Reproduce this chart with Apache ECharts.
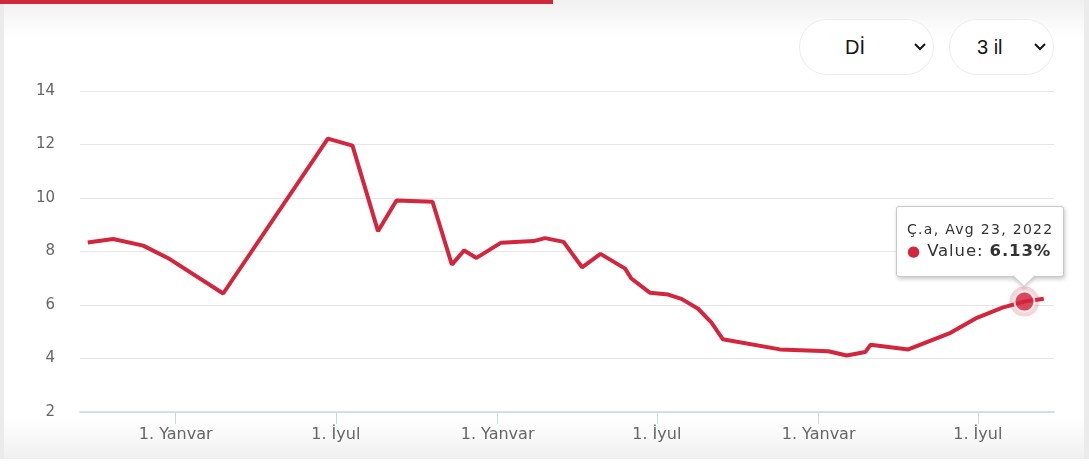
<!DOCTYPE html>
<html>
<head>
<meta charset="utf-8">
<script src="https://cdn.jsdelivr.net/npm/echarts@6/dist/echarts.min.js"></script>
<style>
  html, body { margin:0; padding:0; background:#fff; width:1089px; height:475px; overflow:hidden; }
  #frame { position:absolute; left:0; top:0; width:1089px; height:459px; background:#ebebeb; }
  #card { position:absolute; left:4px; top:0; width:1080px; height:459px;
    background:linear-gradient(to bottom, #efefef 0px, #f6f6f6 14px, #ffffff 38px, #ffffff 418px, #f7f7f7 440px, #efefef 459px); }
  #bar { position:absolute; left:0; top:0; width:553px; height:4px; background:#d0273c; }
  #chart { position:absolute; left:0; top:0; width:1089px; height:475px; }
  .dd { position:absolute; top:19px; height:56px; box-sizing:border-box; border:1px solid #ececec; border-radius:28px;
    background:#fff; font-family:"Liberation Sans", Arial, sans-serif; font-size:20px; color:#151515; z-index:5; }
  .dd span { position:absolute; top:0; line-height:54px; }
  .dd svg { position:absolute; top:22px; }
</style>
</head>
<body>
<div id="frame"></div>
<div id="card"></div>
<div id="bar"></div>
<div id="chart"></div>
<div class="dd" style="left:799px;width:135px;"><span style="left:45px;">Dİ</span>
  <svg style="left:113px" width="14" height="10" viewBox="0 0 14 10"><polyline points="2,2 7,7 12,2" fill="none" stroke="#151515" stroke-width="2"/></svg></div>
<div class="dd" style="left:949px;width:105px;"><span style="left:27px;">3 il</span>
  <svg style="left:83px" width="14" height="10" viewBox="0 0 14 10"><polyline points="2,2 7,7 12,2" fill="none" stroke="#151515" stroke-width="2"/></svg></div>
<script>
// ---- data ----
var dates = ['2019-09-23','2019-10-22','2019-11-25','2019-12-23','2020-02-24','2020-06-22','2020-07-20','2020-08-18',
  '2020-09-08','2020-10-19','2020-11-10','2020-11-24','2020-12-08','2021-01-05','2021-02-11','2021-02-24','2021-03-17',
  '2021-04-07','2021-04-28','2021-05-26','2021-06-02','2021-06-23','2021-07-14','2021-07-29','2021-08-17','2021-09-01',
  '2021-09-14','2021-11-18','2022-01-12','2022-02-02','2022-02-23','2022-03-01','2022-04-13','2022-05-31','2022-06-30',
  '2022-07-29','2022-08-23','2022-09-14'];
var values = [8.34,8.47,8.22,7.76,6.43,12.22,11.96,8.76,9.91,9.86,7.51,8.04,7.76,8.33,8.39,8.50,8.36,7.41,7.91,7.36,
  6.99,6.46,6.39,6.23,5.86,5.35,4.72,4.34,4.27,4.11,4.24,4.51,4.34,4.96,5.52,5.90,6.13,6.23];
var tickDates = ['2020-01-01','2020-07-01','2021-01-01','2021-07-01','2022-01-01','2022-07-01'];
var tickLabels = ['1. Yanvar','1. İyul','1. Yanvar','1. İyul','1. Yanvar','1. İyul'];
var yTicks = [2,4,6,8,10,12,14];
var weekdaysAz = ['B.','B.e','Ç.a','Ç.','C.a','C.','Ş.'];
var monthsAz = ['Yan','Fev','Mar','Apr','May','İyn','İyl','Avg','Sen','Okt','Noy','Dek'];
var highlightIndex = 36;
var axisStart = '2019-09-14T04:30:00Z';
var axisEnd = '2022-09-25T15:00:00Z';
var lineColor = '#d3263d';

function ts(s){ return s.length > 10 ? Date.parse(s) : Date.parse(s + 'T00:00:00Z'); }
var seriesData = dates.map(function(d, i){ return [ts(d), values[i]]; });
var tickTs = tickDates.map(ts);
var hlPoint = [seriesData[highlightIndex]];

var chart = echarts.init(document.getElementById('chart'), null, {renderer:'canvas'});
chart.setOption({
  animation: false,
  backgroundColor: 'transparent',
  grid: { left: 80, right: 35, top: 91, bottom: 63, containLabel: false },
  xAxis: {
    type: 'value',
    min: ts(axisStart), max: ts(axisEnd), scale: true,
    axisLine: { show: true, onZero: false, lineStyle: { color: '#ccd6eb', width: 1.5 } },
    axisTick: { show: true, customValues: tickTs, length: 12, lineStyle: { color: '#ccd6eb', width: 1 } },
    splitLine: { show: false },
    axisLabel: {
      customValues: tickTs, margin: 15, color: '#666666', fontSize: 16, fontFamily: 'DejaVu Sans',
      hideOverlap: false, showMinLabel: true, showMaxLabel: true,
      formatter: function(v){
        for (var i = 0; i < tickTs.length; i++) if (Math.abs(tickTs[i] - v) < 3600000) return tickLabels[i];
        return '';
      }
    }
  },
  yAxis: {
    type: 'value', min: yTicks[0], max: yTicks[yTicks.length-1], interval: 2,
    axisLine: { show: false }, axisTick: { show: false },
    splitLine: { lineStyle: { color: '#e6e6e6', width: 1 } },
    axisLabel: { margin: 25, color: '#666666', fontSize: 15, fontFamily: 'DejaVu Sans' }
  },
  tooltip: {
    trigger: 'item', triggerOn: 'none', alwaysShowContent: true, transitionDuration: 0,
    backgroundColor: '#ffffff', borderColor: '#c9c9c9', borderWidth: 1, padding: 0,
    extraCssText: 'box-shadow:1px 2px 4px rgba(0,0,0,0.22);border-radius:3px;',
    position: function(point, params, dom, rect, size){
      var p = chart.convertToPixel({xAxisIndex:0, yAxisIndex:0}, seriesData[highlightIndex]);
      return [p[0] - 128, p[1] - 25 - size.contentSize[1]];
    },
    formatter: function(){
      var d = new Date(seriesData[highlightIndex][0]);
      var dateStr = weekdaysAz[d.getUTCDay()] + ', ' + monthsAz[d.getUTCMonth()] + ' ' + d.getUTCDate() + ', ' + d.getUTCFullYear();
      return '<div style="position:relative;width:147px;height:45px;padding:12px 9px 12px 10px;font-family:\'DejaVu Sans\';color:#333;">' +
        '<div style="font-size:14px;line-height:20px;white-space:nowrap;letter-spacing:1.3px;">' + dateStr + '</div>' +
        '<div style="font-size:16.5px;line-height:24px;white-space:nowrap;letter-spacing:0.9px;"><span style="color:' + lineColor + ';font-size:15px;">●</span> Value: <b>' + values[highlightIndex].toFixed(2) + '%</b></div>' +
        '<div style="position:absolute;left:119px;top:61px;width:15px;height:15px;background:#fff;border-right:1px solid #c9c9c9;border-bottom:1px solid #c9c9c9;transform:rotate(45deg);box-shadow:2px 2px 3px rgba(0,0,0,0.12);"></div>' +
        '</div>';
    }
  },
  series: [
    { type: 'line', data: seriesData, symbol: 'none', lineStyle: { color: lineColor, width: 4 }, z: 2 },
    { type: 'scatter', data: hlPoint, symbol: 'circle', symbolSize: 30, itemStyle: { color: 'rgba(211,38,61,0.25)' }, z: 3, silent: true },
    { type: 'scatter', data: hlPoint, symbol: 'circle', symbolSize: 20, itemStyle: { color: lineColor, borderColor: '#ffffff', borderWidth: 2 }, z: 4 }
  ]
});
chart.dispatchAction({ type: 'showTip', seriesIndex: 2, dataIndex: 0 });
</script>
</body>
</html>
